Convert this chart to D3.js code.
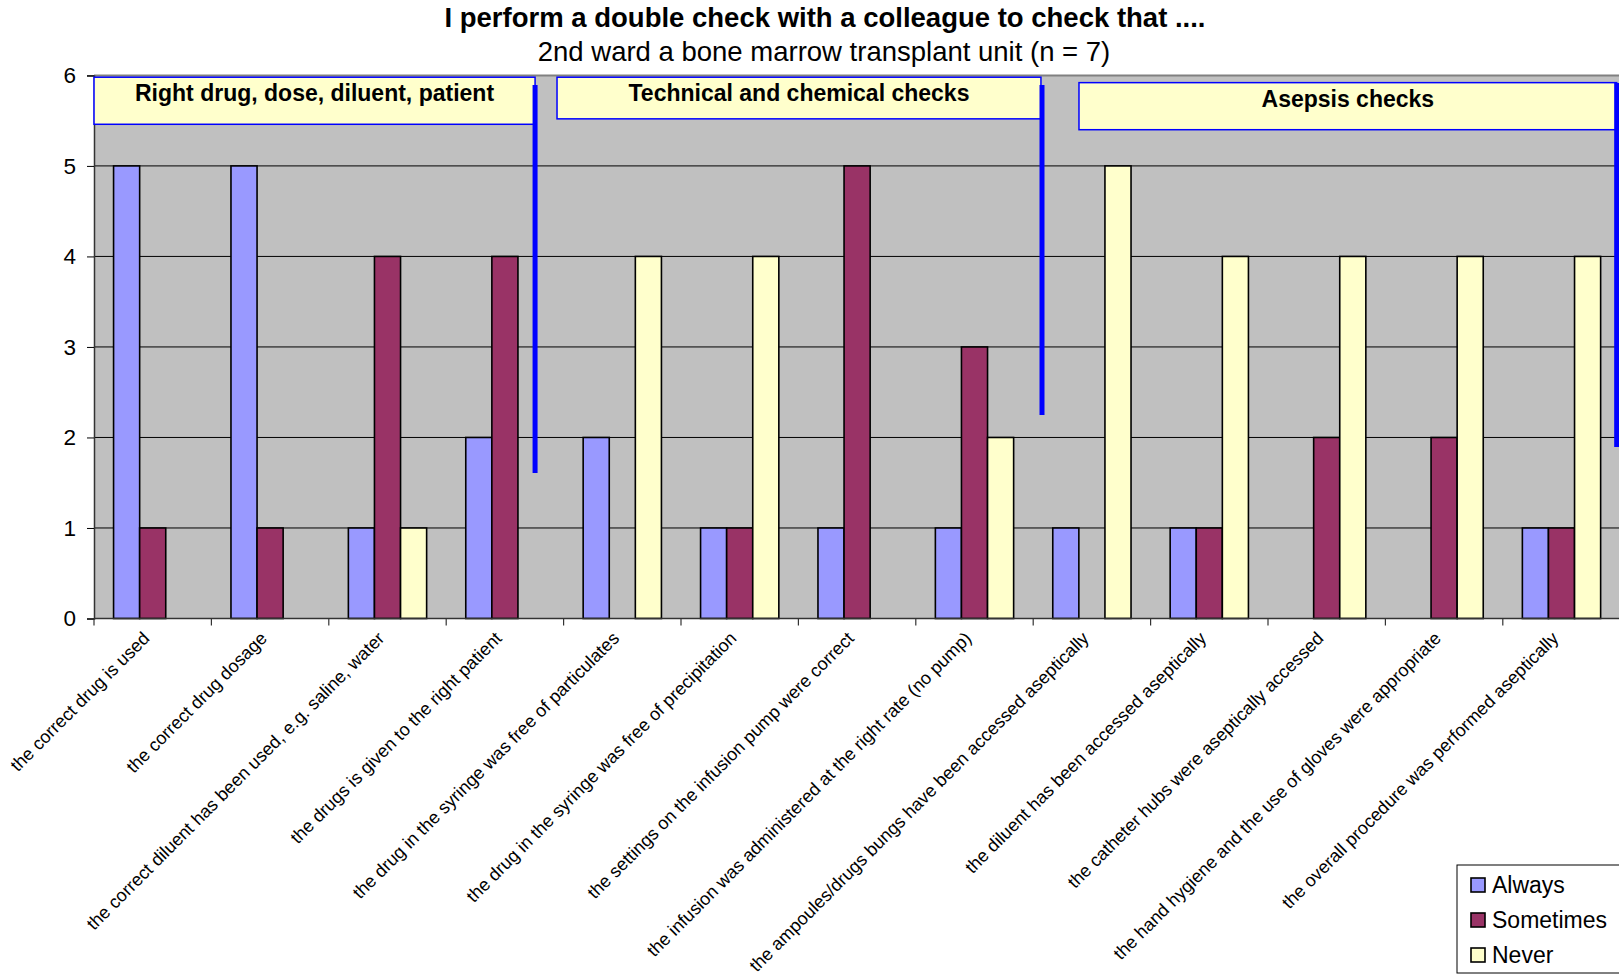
<!DOCTYPE html>
<html><head><meta charset="utf-8">
<script src="https://cdn.jsdelivr.net/npm/d3@7"></script>
<style>
html,body{margin:0;padding:0;background:#fff;overflow:hidden}
svg{display:block;font-family:"Liberation Sans",Arial,sans-serif}
</style></head>
<body>
<svg id="chart" width="1619" height="976"></svg>
<script>
const categories = [
  "the correct drug is used",
  "the correct drug dosage",
  "the correct diluent has been used, e.g. saline, water",
  "the drugs is given to the right patient",
  "the drug in the syringe was free of particulates",
  "the drug in the syringe was free of precipitation",
  "the settings on the infusion pump were correct",
  "the infusion was administered at the right rate (no pump)",
  "the ampoules/drugs bungs have been accessed aseptically",
  "the diluent has been accessed aseptically",
  "the catheter hubs were aseptically accessed",
  "the hand hygiene and the use of gloves were appropriate",
  "the overall procedure was performed aseptically"
];
const seriesNames = ["Always", "Sometimes", "Never"];
const always    = [5, 5, 1, 2, 2, 1, 1, 1, 1, 1, 0, 0, 1];
const sometimes = [1, 1, 4, 4, 0, 1, 5, 3, 0, 1, 2, 2, 1];
const never     = [0, 0, 1, 0, 4, 4, 0, 2, 5, 4, 4, 4, 4];
const yTicks = [0, 1, 2, 3, 4, 5, 6];
const title = "I perform a double check with a colleague to check that ....";
const subtitle = "2nd ward a bone marrow transplant unit (n = 7)";
// group annotations: x in category units, y in data units
const groupLabels = ["Right drug, dose, diluent, patient", "Technical and chemical checks", "Asepsis checks"];
const groupBoxX0 = [0.0, 3.944, 8.39];
const groupBoxX1 = [3.757, 8.066, 12.97];
const groupBoxYTop = [5.98, 5.98, 5.92];
const groupBoxYBot = [5.46, 5.52, 5.40];
const dividerX = [3.757, 8.075, 12.97];
const dividerYTop = [5.895, 5.895, 5.917];
const dividerYBot = [1.608, 2.249, 1.895];

const colors = {Always: "#9999FF", Sometimes: "#993366", Never: "#FFFFCC"};
const values = {Always: always, Sometimes: sometimes, Never: never};

const svg = d3.select("#chart");
const mLeft = 94, mRight = 94 + 13 * 117.4, mTop = 75.4, mBottom = 618.5;

const x = d3.scaleBand().domain(categories).range([mLeft, mRight]).paddingInner(0).paddingOuter(0);
const xs = d3.scaleBand().domain(seriesNames).range([0, x.bandwidth()]).paddingInner(0).paddingOuter(0.75);
const y = d3.scaleLinear().domain([0, 6]).range([mBottom, mTop]);
const xc = d3.scaleLinear().domain([0, categories.length]).range([mLeft, mRight]);

// title
svg.append("text").attr("x", 825).attr("y", 27).attr("text-anchor", "middle")
  .attr("font-weight", "bold").attr("font-size", 27.5).text(title);
svg.append("text").attr("x", 824).attr("y", 61).attr("text-anchor", "middle")
  .attr("font-size", 27.5).text(subtitle);

// plot area
svg.append("rect").attr("x", mLeft).attr("y", mTop).attr("width", mRight - mLeft + 10).attr("height", mBottom - mTop)
  .attr("fill", "#C0C0C0");
svg.append("line").attr("x1", mLeft).attr("x2", mRight + 10).attr("y1", mTop).attr("y2", mTop)
  .attr("stroke", "#808080").attr("stroke-width", 2);

// gridlines
svg.append("g").selectAll("line").data(yTicks.filter(d => d > 0 && d < 6)).join("line")
  .attr("x1", mLeft).attr("x2", mRight + 10).attr("y1", d => y(d)).attr("y2", d => y(d))
  .attr("stroke", "#000").attr("stroke-width", 1);

// bars
const g = svg.append("g");
categories.forEach((c, i) => {
  seriesNames.forEach(s => {
    const v = values[s][i];
    if (v <= 0) return;
    g.append("rect")
      .attr("x", x(c) + xs(s)).attr("y", y(v))
      .attr("width", xs.bandwidth()).attr("height", y(0) - y(v))
      .attr("fill", colors[s]).attr("stroke", "#000").attr("stroke-width", 1.6);
  });
});

// y axis
const yAxis = svg.append("g").attr("transform", `translate(${mLeft},0)`)
  .call(d3.axisLeft(y).tickValues(yTicks).tickFormat(d3.format("d")).tickSize(7).tickPadding(11));
yAxis.select(".domain").attr("stroke", "#333").attr("stroke-width", 1.5);
yAxis.selectAll(".tick line").attr("stroke", "#000");
yAxis.selectAll("text").attr("font-size", 22.5).attr("font-family", "Liberation Sans, Arial, sans-serif").attr("fill", "#000");

// x axis line and ticks at category boundaries
svg.append("line").attr("x1", mLeft).attr("x2", mRight + 10).attr("y1", mBottom).attr("y2", mBottom)
  .attr("stroke", "#333").attr("stroke-width", 1.5);
svg.append("g").selectAll("line").data(d3.range(categories.length + 1)).join("line")
  .attr("x1", d => xc(d)).attr("x2", d => xc(d)).attr("y1", mBottom).attr("y2", mBottom + 7)
  .attr("stroke", "#333").attr("stroke-width", 1.2);

// x labels
svg.append("g").selectAll("text").data(categories).join("text")
  .attr("transform", d => `translate(${x(d) + x.bandwidth() / 2 - 2},${mBottom + 21}) rotate(-45)`)
  .attr("text-anchor", "end").attr("font-size", 18).attr("fill", "#000").text(d => d);

// group annotation boxes
groupLabels.forEach((t, i) => {
  const x0 = xc(groupBoxX0[i]), x1 = xc(groupBoxX1[i]);
  const y0 = y(groupBoxYTop[i]), y1 = y(groupBoxYBot[i]);
  svg.append("rect").attr("x", x0).attr("y", y0).attr("width", x1 - x0).attr("height", y1 - y0)
    .attr("fill", "#FFFFCC").attr("stroke", "#0000FF").attr("stroke-width", 1.5);
  svg.append("text").attr("x", (x0 + x1) / 2).attr("y", y0 + 24).attr("text-anchor", "middle")
    .attr("font-weight", "bold").attr("font-size", 23).text(t);
});
dividerX.forEach((d, i) => {
  svg.append("line").attr("x1", xc(d)).attr("x2", xc(d)).attr("y1", y(dividerYTop[i])).attr("y2", y(dividerYBot[i]))
    .attr("stroke", "#0000FF").attr("stroke-width", 5);
});

// legend
const lg = svg.append("g").attr("transform", "translate(1457,865)");
lg.append("rect").attr("x", 0).attr("y", 0).attr("width", 200).attr("height", 108)
  .attr("fill", "#fff").attr("stroke", "#000").attr("stroke-width", 1);
seriesNames.forEach((s, i) => {
  const yy = 20 + i * 35;
  lg.append("rect").attr("x", 14).attr("y", yy - 7).attr("width", 14).attr("height", 14)
    .attr("fill", colors[s]).attr("stroke", "#000").attr("stroke-width", 1.6);
  lg.append("text").attr("x", 35).attr("y", yy + 8).attr("font-size", 23).text(s);
});
</script>
</body></html>
